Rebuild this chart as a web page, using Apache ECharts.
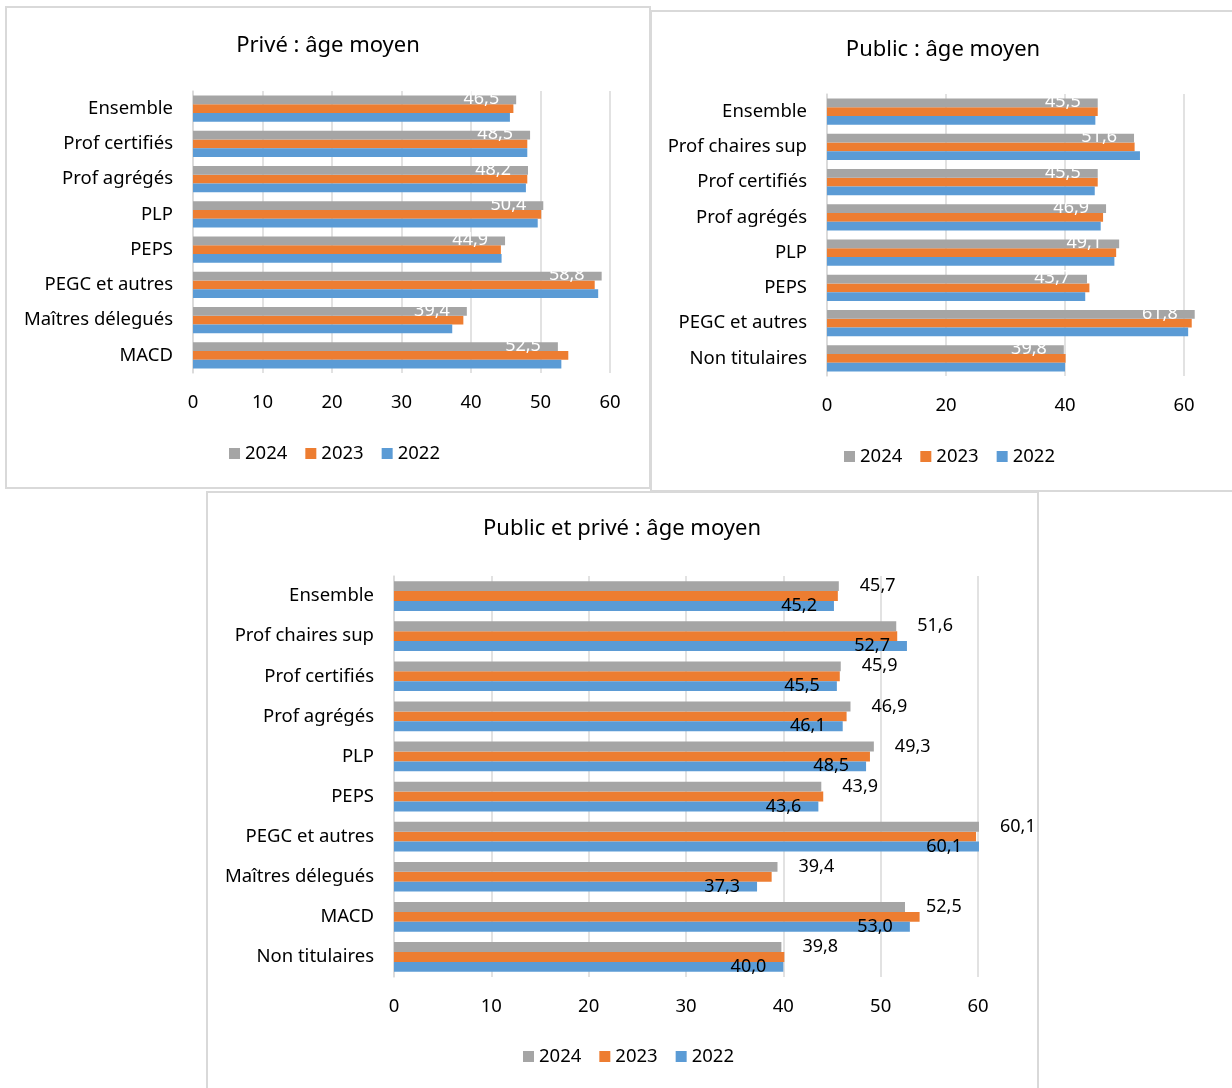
<!DOCTYPE html>
<html>
<head>
<meta charset="utf-8">
<script src="https://cdn.jsdelivr.net/npm/echarts@6/dist/echarts.min.js"></script>
<style>
  html, body { margin: 0; padding: 0; background: #fff; }
  #main { width: 1232px; height: 1088px; }
</style>
</head>
<body>
<div id="main"></div>
<script>
// Privé
const privCats = ["Ensemble", "Prof certifiés", "Prof agrégés", "PLP", "PEPS", "PEGC et autres", "Maîtres délegués", "MACD"];
const priv2024 = [46.5, 48.5, 48.2, 50.4, 44.9, 58.8, 39.4, 52.5];
const priv2023 = [46.1, 48.1, 48.1, 50.1, 44.3, 57.8, 38.9, 54.0];
const priv2022 = [45.6, 48.1, 47.9, 49.6, 44.4, 58.3, 37.3, 53.0];

// Public
const pubCats = ["Ensemble", "Prof chaires sup", "Prof certifiés", "Prof agrégés", "PLP", "PEPS", "PEGC et autres", "Non titulaires"];
const pub2024 = [45.5, 51.6, 45.5, 46.9, 49.1, 43.7, 61.8, 39.8];
const pub2023 = [45.5, 51.7, 45.5, 46.4, 48.6, 44.1, 61.3, 40.1];
const pub2022 = [45.1, 52.6, 45.0, 46.0, 48.3, 43.4, 60.7, 40.0];

// Public et privé
const allCats = ["Ensemble", "Prof chaires sup", "Prof certifiés", "Prof agrégés", "PLP", "PEPS", "PEGC et autres", "Maîtres délegués", "MACD", "Non titulaires"];
const all2024 = [45.7, 51.6, 45.9, 46.9, 49.3, 43.9, 60.1, 39.4, 52.5, 39.8];
const all2023 = [45.6, 51.7, 45.8, 46.5, 48.9, 44.1, 59.8, 38.8, 54.0, 40.1];
const all2022 = [45.2, 52.7, 45.5, 46.1, 48.5, 43.6, 60.1, 37.3, 53.0, 40.0];

const years = ["2024", "2023", "2022"];
const colors = ["#A5A5A5", "#ED7D31", "#5B9BD5"];
const gridColor = "#D9D9D9";

const chart = echarts.init(document.getElementById("main"));

const fmt = (p) => p.value.toFixed(1).replace(".", ",");

// position de chaque graphique (coordonnées de la page)
const grids = [
  { left: 193, top: 91, width: 417, height: 282 },
  { left: 827, top: 94, width: 357, height: 282 },
  { left: 394, top: 576, width: 584, height: 401 },
];
const intervals = [10, 20, 10];
const catLists = [privCats, pubCats, allCats];
const dataSets = [
  [priv2024, priv2023, priv2022],
  [pub2024, pub2023, pub2022],
  [all2024, all2023, all2022],
];

const xAxes = grids.map((g, i) => ({
  type: "value",
  gridIndex: i,
  min: 0,
  max: 60,
  interval: intervals[i],
  axisLine: { show: false },
  axisTick: { show: false },
  splitLine: { show: true, lineStyle: { color: gridColor, width: 1.5 } },
  axisLabel: { color: "#000", fontSize: 18.5, margin: 20 },
}));

const yAxes = grids.map((g, i) => ({
  type: "category",
  gridIndex: i,
  inverse: true,
  data: catLists[i],
  axisLine: { show: true, lineStyle: { color: gridColor, width: 1.5 } },
  axisTick: { show: false },
  axisLabel: { color: "#000", fontSize: 18.5, margin: 20 },
}));

const series = [];
dataSets.forEach((set, i) => {
  set.forEach((vals, k) => {
    let label = { show: false };
    if (i < 2 && k === 0) {
      label = { show: true, position: "insideRight", distance: 17, offset: [0, -1], color: "#fff", fontSize: 18, formatter: fmt };
    }
    if (i === 2 && k === 0) {
      label = { show: true, position: "right", distance: 21, color: "#000", fontSize: 18, formatter: fmt };
    }
    if (i === 2 && k === 2) {
      label = { show: true, position: "insideRight", distance: 17, color: "#000", fontSize: 18, formatter: fmt };
    }
    series.push({
      name: years[k],
      type: "bar",
      xAxisIndex: i,
      yAxisIndex: i,
      data: vals,
      clip: false,
      barGap: "0%",
      barCategoryGap: "26%",
      itemStyle: { color: colors[k] },
      label: label,
      z: 2 + (k === 0 ? 1 : 0),
    });
  });
});

const option = {
  animation: false,
  color: colors,
  textStyle: { fontFamily: "Noto Sans", color: "#000" },
  title: [
    { text: "Privé : âge moyen", left: 323, top: 30, textAlign: "center" },
    { text: "Public : âge moyen", left: 938, top: 34, textAlign: "center" },
    { text: "Public et privé : âge moyen", left: 617, top: 513, textAlign: "center" },
  ].map((t) => Object.assign(t, { textStyle: { fontSize: 22, fontWeight: "normal", color: "#000" } })),
  legend: [
    { left: 224, top: 439 },
    { left: 839, top: 442 },
    { left: 518, top: 1042 },
  ].map((l) => Object.assign(l, {
    data: years,
    icon: "rect",
    itemWidth: 11,
    itemHeight: 11,
    itemGap: 18,
    selectedMode: false,
    textStyle: { fontSize: 18.5, color: "#000" },
  })),
  grid: grids,
  xAxis: xAxes,
  yAxis: yAxes,
  series: series,
  graphic: [
    { type: "rect", shape: { x: 6, y: 7, width: 644, height: 481 }, style: { fill: "none", stroke: gridColor, lineWidth: 2 }, z: -1 },
    { type: "rect", shape: { x: 651, y: 11, width: 600, height: 480 }, style: { fill: "none", stroke: gridColor, lineWidth: 2 }, z: -1 },
    { type: "rect", shape: { x: 207, y: 492, width: 831, height: 620 }, style: { fill: "none", stroke: gridColor, lineWidth: 2 }, z: -1 },
  ],
};

chart.setOption(option);
</script>
</body>
</html>
